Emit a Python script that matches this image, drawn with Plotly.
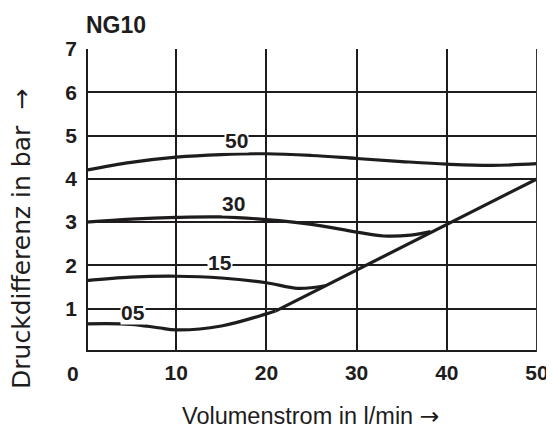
import plotly.graph_objects as go

# Data
x50 = [0, 5, 10, 15, 20, 25, 30, 35, 40, 45, 50]
y50 = [4.2, 4.38, 4.5, 4.56, 4.58, 4.54, 4.47, 4.4, 4.34, 4.31, 4.35]

x30 = [0, 5, 10, 15, 20, 25, 30, 33, 36, 38.2]
y30 = [3.0, 3.07, 3.11, 3.12, 3.06, 2.95, 2.77, 2.68, 2.7, 2.78]

x15 = [0, 5, 10, 15, 20, 23.5, 26.5]
y15 = [1.65, 1.73, 1.75, 1.71, 1.6, 1.47, 1.53]

x05 = [0, 5, 8, 10, 15, 20, 21]
y05 = [0.65, 0.64, 0.56, 0.51, 0.6, 0.88, 0.945]

x_limit = [21, 50]
y_limit = [0.945, 4.0]

curve_labels = ["50", "30", "15", "05"]
label_x = [16.7, 16.3, 14.9, 5.2]
label_y = [4.89, 3.43, 2.06, 0.92]

x_ticks = [10, 20, 30, 40, 50]
y_ticks = [1, 2, 3, 4, 5, 6, 7]

ink = "#1e1c1c"
FAM = "Liberation Sans, Arial, sans-serif"
ARROW = "<span style='font-family:DejaVu Sans'>\u2192</span>"
fig = go.Figure()
for xs, ys in [(x50, y50), (x30, y30), (x15, y15), (x05, y05), (x_limit, y_limit)]:
    fig.add_trace(go.Scatter(x=xs, y=ys, mode="lines",
                             line=dict(color=ink, width=3.2, shape="spline", smoothing=1.0),
                             hoverinfo="skip", showlegend=False))

bold = dict(family=FAM, size=21, color=ink, weight="bold")
annotations = []
for t, lx, ly in zip(curve_labels, label_x, label_y):
    annotations.append(dict(x=lx, y=ly, xref="x", yref="y", text=t,
                            showarrow=False, font=bold, bgcolor="white", borderpad=0))
annotations.append(dict(x=0, y=0, xref="x", yref="y", text="0", showarrow=False,
                        font=bold, xshift=-13, yshift=-21))
annotations.append(dict(x=0.0, y=1.0, xref="paper", yref="paper", text="NG10",
                        showarrow=False, font=dict(family=FAM, size=23, color=ink, weight="bold"),
                        xanchor="left", yanchor="bottom", xshift=-2, yshift=9))
annotations.append(dict(x=0.497, y=-0.211, xref="paper", yref="paper",
                        text="Volumenstrom in l/min " + ARROW, showarrow=False,
                        font=dict(family=FAM, size=23.5, color=ink),
                        xanchor="center", yanchor="middle"))
annotations.append(dict(x=-0.142, y=0.373, xref="paper", yref="paper",
                        text="Druckdifferenz in bar  " + ARROW, showarrow=False, textangle=-90,
                        font=dict(family="DejaVu Sans", size=25, color=ink),
                        xanchor="center", yanchor="middle"))

# the page body has an 8px margin, so the figure is offset by 8px
fig.update_layout(
    width=546, height=421,
    margin=dict(l=78, r=17, t=41, b=77),
    plot_bgcolor="white", paper_bgcolor="white",
    annotations=annotations,
    xaxis=dict(range=[0, 50], tickvals=x_ticks, ticktext=[str(v) for v in x_ticks],
               showgrid=True, gridcolor=ink, gridwidth=1.5, zeroline=False,
               showline=False, ticks="", tickfont=bold, automargin=False,
               ticklabelstandoff=6),
    yaxis=dict(range=[0, 7], tickvals=y_ticks, ticktext=[str(v) for v in y_ticks],
               showgrid=True, gridcolor=ink, gridwidth=1.5, zeroline=False,
               showline=False, ticks="", tickfont=bold, automargin=False,
               ticklabelstandoff=8),
    shapes=[
        dict(type="line", xref="x", yref="y", x0=0, x1=0, y0=0, y1=7, line=dict(color=ink, width=4)),
        dict(type="line", xref="x", yref="y", x0=0, x1=50, y0=0, y1=0, line=dict(color=ink, width=4)),
        dict(type="line", xref="x", yref="y", x0=50, x1=50, y0=0, y1=7, line=dict(color="#333", width=2)),
    ],
)
fig.write_html("out.html")
